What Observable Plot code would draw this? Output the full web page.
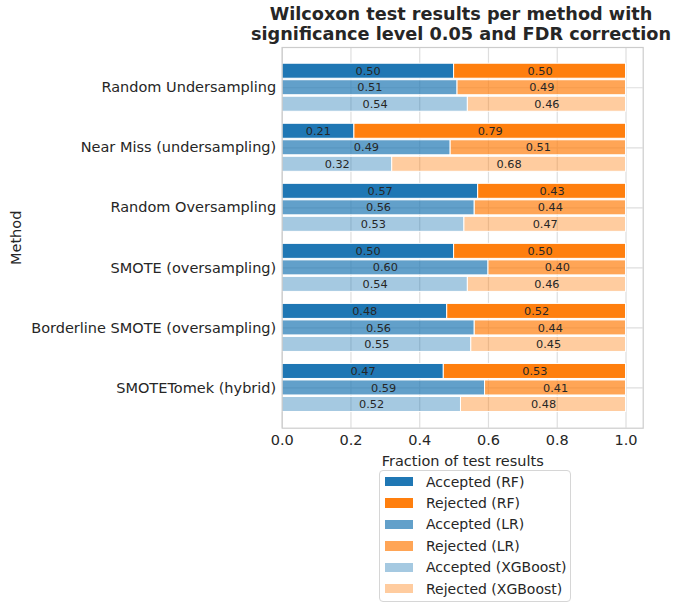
<!DOCTYPE html>
<html>
<head>
<meta charset="utf-8">
<script src="https://cdn.jsdelivr.net/npm/d3@7"></script>
<script src="https://cdn.jsdelivr.net/npm/@observablehq/plot@0.6"></script>
<style>
  body { margin: 0; background: white; font-family: "DejaVu Sans", sans-serif; color: #262626; }
  #wrap { position: relative; width: 674px; height: 605px; overflow: hidden; }
  #title { position: absolute; top: 5px; left: 161px; width: 600px; text-align: center;
           font-weight: bold; font-size: 17.7px; line-height: 19.5px; color: #262626; white-space: nowrap; }
  #chart { position: absolute; top: 45px; left: 0; }
  #legend { position: absolute; left: 379px; top: 470px; width: 192px; height: 132px;
            border: 1px solid #d6d6d6; border-radius: 4px; background: white; box-sizing: border-box; }
  .row { height: 21.4px; display: flex; align-items: center; font-size: 14px; }
  .sw { width: 28px; height: 9.5px; margin-left: 5px; margin-right: 13px; }
</style>
</head>
<body>
<div id="wrap">
  <div id="title">Wilcoxon test results per method with<br>significance level 0.05 and FDR correction</div>
  <div id="chart"></div>
  <div id="legend"></div>
</div>
<script>
const methods = [
  "Random Undersampling",
  "Near Miss (undersampling)",
  "Random Oversampling",
  "SMOTE (oversampling)",
  "Borderline SMOTE (oversampling)",
  "SMOTETomek (hybrid)"
];
const models = ["RF", "LR", "XGBoost"];
const acceptedRF  = [0.50, 0.21, 0.57, 0.50, 0.48, 0.47];
const rejectedRF  = [0.50, 0.79, 0.43, 0.50, 0.52, 0.53];
const acceptedLR  = [0.51, 0.49, 0.56, 0.60, 0.56, 0.59];
const rejectedLR  = [0.49, 0.51, 0.44, 0.40, 0.44, 0.41];
const acceptedXGB = [0.54, 0.32, 0.53, 0.54, 0.55, 0.52];
const rejectedXGB = [0.46, 0.68, 0.47, 0.46, 0.45, 0.48];
const xTicks = [0, 0.2, 0.4, 0.6, 0.8, 1.0];

const blue = "#1f77b4", orange = "#ff7f0e";
const modelOpacity = {RF: 1, LR: 0.7, XGBoost: 0.4};
const modelOffset = {RF: -0.275, LR: 0, XGBoost: 0.275};
const barH = 0.25;

const acc = {RF: acceptedRF, LR: acceptedLR, XGBoost: acceptedXGB};
const rej = {RF: rejectedRF, LR: rejectedLR, XGBoost: rejectedXGB};

const rows = [];
methods.forEach((m, i) => {
  models.forEach(mod => {
    const a = acc[mod][i], r = rej[mod][i];
    const yc = i + modelOffset[mod];
    rows.push({method: m, model: mod, kind: "Accepted", x1: 0, x2: a, value: a, y1: yc - barH / 2, y2: yc + barH / 2, yc, fill: blue, op: modelOpacity[mod]});
    rows.push({method: m, model: mod, kind: "Rejected", x1: a, x2: a + r, value: r, y1: yc - barH / 2, y2: yc + barH / 2, yc, fill: orange, op: modelOpacity[mod]});
  });
});

const chart = Plot.plot({
  width: 674,
  height: 423,
  marginLeft: 281.7,
  marginRight: 31.3,
  marginTop: 2,
  marginBottom: 40.3,
  style: {fontFamily: "DejaVu Sans", fontSize: "14.5px", color: "#262626", background: "white", overflow: "visible"},
  x: {domain: [0, 1.05]},
  y: {domain: [-0.67, 5.67], reverse: true},
  marks: [
    Plot.gridX(xTicks, {stroke: "#dedede", strokeOpacity: 1, strokeWidth: 1.2}),
    Plot.gridY(d3.range(methods.length), {stroke: "#dedede", strokeOpacity: 1, strokeWidth: 1.2}),
    Plot.rect(rows, {x1: "x1", x2: "x2", y1: "y1", y2: "y2", fill: "fill", fillOpacity: "op", stroke: "white", strokeWidth: 1}),
    Plot.text(rows, {x: d => (d.x1 + d.x2) / 2, y: "yc", text: d => d3.format(".2f")(d.value), fontSize: 11.3, fill: "#262626"}),
    Plot.frame({stroke: "#cccccc", strokeWidth: 1.2}),
    Plot.axisX(xTicks, {tickSize: 0, tickPadding: 7, tickFormat: ".1f", fontSize: 14.5, label: "Fraction of test results", labelAnchor: "center", labelArrow: "none", labelOffset: 38}),
    Plot.axisY(d3.range(methods.length), {tickSize: 0, tickPadding: 6, tickFormat: i => methods[i], fontSize: 14.5, label: "Method", labelAnchor: "center", labelArrow: "none", labelOffset: 271})
  ]
});
document.getElementById("chart").appendChild(chart);

const legend = document.getElementById("legend");
models.forEach(mod => {
  ["Accepted", "Rejected"].forEach(kind => {
    const row = document.createElement("div");
    row.className = "row";
    const sw = document.createElement("div");
    sw.className = "sw";
    sw.style.background = kind === "Accepted" ? blue : orange;
    sw.style.opacity = modelOpacity[mod];
    const t = document.createElement("span");
    t.textContent = `${kind} (${mod})`;
    row.appendChild(sw);
    row.appendChild(t);
    legend.appendChild(row);
  });
});
</script>
</body>
</html>
